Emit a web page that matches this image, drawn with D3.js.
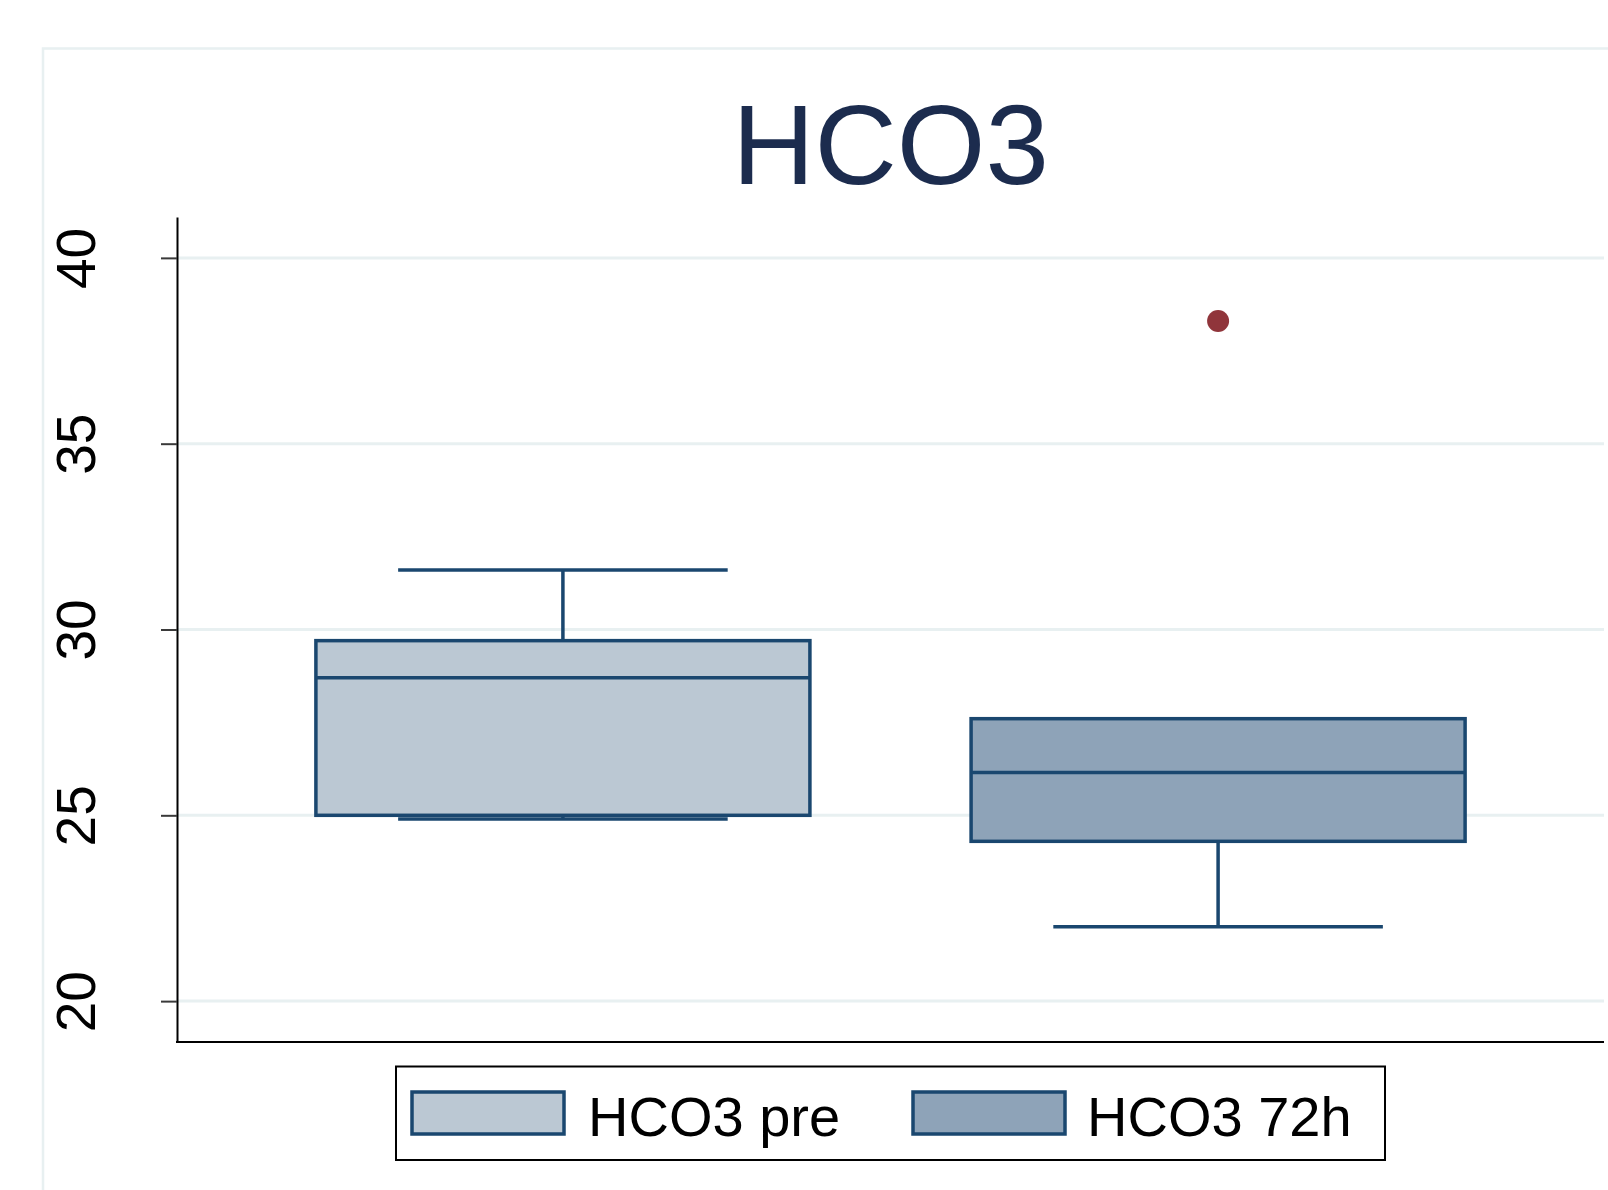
<!DOCTYPE html>
<html>
<head>
<meta charset="utf-8">
<script src="https://cdn.jsdelivr.net/npm/d3@7"></script>
<style>
  html, body { margin: 0; padding: 0; background: #ffffff; }
  svg { display: block; font-family: "Liberation Sans", Arial, Helvetica, sans-serif; }
</style>
</head>
<body>
<svg id="chart" width="1608" height="1190"></svg>
<script>
// ---- data ----
const title = "HCO3";
const categories = ["HCO3 pre", "HCO3 72h"];
const whiskerLow = [24.9, 22.0];
const q1 = [25.0, 24.3];
const median = [28.7, 26.15];
const q3 = [29.7, 27.6];
const whiskerHigh = [31.6, 27.6];
const outliers = [[], [38.3]];
const yTicks = [20, 25, 30, 35, 40];
const yMin = 18.9, yMax = 41.1;
const fills = ["#bbc8d3", "#8ea3b8"];

// ---- layout ----
const W = 1608, H = 1190;
const plot = { left: 177, right: 1604, top: 217, bottom: 1042 };
const lineColor = "#1a476f";
const gridColor = "#e8f0f1";

const svg = d3.select("#chart");
svg.append("rect").attr("width", W).attr("height", H).attr("fill", "#fff");

// outer graph-region frame
svg.append("path")
  .attr("d", `M43,${H} L43,48.5 L${W},48.5`)
  .attr("fill", "none").attr("stroke", "#e8f0f1").attr("stroke-width", 2.5);

const y = d3.scaleLinear().domain([yMin, yMax]).range([plot.bottom, plot.top]);
const x = d3.scalePoint().domain(categories).range([plot.left, plot.right]).padding(0.589);
const boxW = x.step() * 0.754;
const capW = x.step() * 0.503;

// gridlines
svg.append("g").selectAll("line").data(yTicks).join("line")
  .attr("x1", plot.left).attr("x2", plot.right)
  .attr("y1", d => y(d)).attr("y2", d => y(d))
  .attr("stroke", gridColor).attr("stroke-width", 3);

// title
svg.append("text")
  .attr("x", (plot.left + plot.right) / 2).attr("y", 184)
  .attr("text-anchor", "middle")
  .attr("font-size", 114).attr("fill", "#1c2c4e")
  .text(title);

// boxes
const stats = categories.map((c, i) => ({
  c, i, lo: whiskerLow[i], q1: q1[i], med: median[i], q3: q3[i], hi: whiskerHigh[i], out: outliers[i]
}));

const lw = 3.5;
const g = svg.append("g");
stats.forEach(s => {
  const cx = x(s.c);
  // upper whisker
  if (s.hi > s.q3) {
    g.append("line").attr("x1", cx).attr("x2", cx).attr("y1", y(s.q3)).attr("y2", y(s.hi))
      .attr("stroke", lineColor).attr("stroke-width", lw);
    g.append("line").attr("x1", cx - capW / 2).attr("x2", cx + capW / 2).attr("y1", y(s.hi)).attr("y2", y(s.hi))
      .attr("stroke", lineColor).attr("stroke-width", lw);
  }
  // lower whisker
  if (s.lo < s.q1) {
    g.append("line").attr("x1", cx).attr("x2", cx).attr("y1", y(s.q1)).attr("y2", y(s.lo))
      .attr("stroke", lineColor).attr("stroke-width", lw);
    g.append("line").attr("x1", cx - capW / 2).attr("x2", cx + capW / 2).attr("y1", y(s.lo)).attr("y2", y(s.lo))
      .attr("stroke", lineColor).attr("stroke-width", lw);
  }
  // box
  g.append("rect")
    .attr("x", cx - boxW / 2).attr("width", boxW)
    .attr("y", y(s.q3)).attr("height", y(s.q1) - y(s.q3))
    .attr("fill", fills[s.i]).attr("stroke", lineColor).attr("stroke-width", lw);
  // median
  g.append("line").attr("x1", cx - boxW / 2).attr("x2", cx + boxW / 2)
    .attr("y1", y(s.med)).attr("y2", y(s.med))
    .attr("stroke", lineColor).attr("stroke-width", lw);
  // outliers
  g.selectAll(null).data(s.out).join("circle")
    .attr("cx", cx).attr("cy", d => y(d)).attr("r", 11)
    .attr("fill", "#90353b");
});

// y axis
const yAxis = d3.axisLeft(y).tickValues(yTicks).tickSize(16).tickSizeOuter(0).tickFormat(d3.format("d"));
const ya = svg.append("g").attr("transform", `translate(${plot.left},0)`).call(yAxis);
ya.select(".domain").attr("stroke", "#000").attr("stroke-width", 2);
ya.selectAll(".tick line").attr("stroke", "#3a3a3a").attr("stroke-width", 2);
ya.selectAll(".tick text")
  .attr("x", null).attr("dy", null)
  .attr("text-anchor", "middle")
  .attr("transform", `translate(${95 - plot.left},0) rotate(-90)`)
  .attr("font-size", 55).attr("fill", "#000")
  .attr("font-family", "Liberation Sans, Arial, sans-serif");

// x axis line
svg.append("line").attr("x1", plot.left - 1).attr("x2", plot.right)
  .attr("y1", plot.bottom).attr("y2", plot.bottom)
  .attr("stroke", "#000").attr("stroke-width", 2);

// legend
const leg = svg.append("g");
leg.append("rect").attr("x", 396).attr("y", 1066.5).attr("width", 989).attr("height", 93.5)
  .attr("fill", "#fff").attr("stroke", "#000").attr("stroke-width", 2);
const legX = [412, 913];
const legTextOff = [176, 174];
categories.forEach((c, i) => {
  leg.append("rect").attr("x", legX[i]).attr("y", 1092).attr("width", 152).attr("height", 42)
    .attr("fill", fills[i]).attr("stroke", lineColor).attr("stroke-width", lw);
  leg.append("text").attr("x", legX[i] + legTextOff[i]).attr("y", 1136)
    .attr("font-size", 56).attr("fill", "#000").text(c);
});
</script>
</body>
</html>
